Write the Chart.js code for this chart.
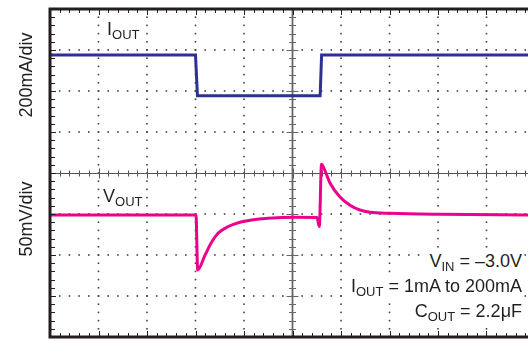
<!DOCTYPE html>
<html>
<head>
<meta charset="utf-8">
<script src="https://cdn.jsdelivr.net/npm/chart.js@4"></script>
<style>
    body { margin: 0; background: #fff; }
    #wrap { position: relative; width: 528px; height: 341px; overflow: hidden; }
    .lbl { position: absolute; font: 18px "Liberation Sans", Arial, Helvetica, sans-serif; line-height: 18px; color: #231f20; white-space: nowrap; }
    .lbl sub { font-size: 13px; vertical-align: baseline; position: relative; top: 4px; line-height: 0; }
    .ytitle { transform: translate(-50%, -50%) rotate(-90deg); }
    .cond { line-height: 25px; background: #fff; padding-left: 3px; right: 6px; }
</style>
</head>
<body>
<div id="wrap">
    <canvas id="scope" width="528" height="341"></canvas>
    <div class="lbl ytitle" style="left:26px; top:75px;">200mA/div</div>
    <div class="lbl ytitle" style="left:26px; top:219px;">50mV/div</div>
    <div class="lbl" style="left:107px; top:20px;">I<sub>OUT</sub></div>
    <div class="lbl" style="left:103px; top:187px;">V<sub>OUT</sub></div>
    <div class="lbl cond" style="top:249px;">V<sub>IN</sub> = –3.0V</div>
    <div class="lbl cond" style="top:274px;">I<sub>OUT</sub> = 1mA to 200mA</div>
    <div class="lbl cond" style="top:299px;">C<sub>OUT</sub> = 2.2μF</div>
</div>
<script>
// temps en divisions horizontales
const tI = [0, 3.0, 3.04, 5.57, 5.60, 9.86];
// courant de sortie (mA)
const iOut = [200, 200, 1, 1, 200, 200];

const tV = [0, 3.01, 3.045, 3.196, 3.334, 3.47, 3.676, 3.882, 4.159, 4.501, 5.052, 5.505, 5.553, 5.598, 5.67, 5.773, 5.979, 6.186, 6.392, 6.598, 7.01, 8.041, 9.86];
// écart de la tension de sortie (mV)
const vOut = [0, 0, -67, -49, -33, -22, -14, -9.4, -6.1, -4, -2.8, -3, -14, 62, 54, 39, 22, 12, 6.1, 3.3, 2.1, 0.9, 0];

const pts = (t, v) => t.map((x, i) => ({ x: x, y: v[i] }));

// graticule de l'oscilloscope
const graticule = {
    id: 'graticule',
    beforeDatasetsDraw(chart) {
        const { ctx, chartArea: a, scales: { x, g } } = chart;
        const xMax = x.max;
        ctx.save();
        ctx.fillStyle = '#444';
        // lignes pointillées verticales
        for (let i = 1; i <= 9; i++) {
            if (i === 5) continue;
            const px = x.getPixelForValue(i);
            for (let k = 1; k < 40; k++) {
                const py = g.getPixelForValue(k / 5);
                ctx.fillRect(px - 0.8, py - 0.8, 1.6, 1.6);
            }
        }
        // lignes pointillées horizontales
        for (let j = 1; j <= 7; j++) {
            if (j === 4) continue;
            const py = g.getPixelForValue(j);
            for (let k = 1; k / 5 < xMax; k++) {
                const px = x.getPixelForValue(k / 5);
                ctx.fillRect(px - 0.8, py - 0.8, 1.6, 1.6);
            }
        }
        // axes centraux
        const cy = Math.round(g.getPixelForValue(4)) + 0.5;
        const cx = x.getPixelForValue(5);
        ctx.strokeStyle = '#555';
        ctx.lineWidth = 1;
        ctx.beginPath();
        ctx.moveTo(a.left, cy); ctx.lineTo(a.right, cy);
        for (let k = 1; k / 5 < xMax; k++) {
            const px = Math.round(x.getPixelForValue(k / 5)) + 0.5;
            const len = k % 5 === 0 ? 5 : 3;
            ctx.moveTo(px, cy - len); ctx.lineTo(px, cy + len);
        }
        ctx.stroke();
        ctx.strokeStyle = '#666';
        ctx.lineWidth = 1.8;
        ctx.beginPath();
        ctx.moveTo(cx, a.top); ctx.lineTo(cx, a.bottom);
        ctx.stroke();
        ctx.lineWidth = 1;
        ctx.beginPath();
        for (let k = 1; k < 40; k++) {
            const py = Math.round(g.getPixelForValue(k / 5)) + 0.5;
            const len = k % 5 === 0 ? 6 : 3.5;
            ctx.moveTo(cx - len, py); ctx.lineTo(cx + len, py);
        }
        ctx.stroke();
        ctx.restore();
    },
    afterDatasetsDraw(chart) {
        const { ctx, chartArea: a, scales: { x, g } } = chart;
        const xMax = x.max;
        ctx.save();
        ctx.strokeStyle = '#231f20';
        // petites graduations des bords
        ctx.lineWidth = 1;
        ctx.beginPath();
        for (let k = 1; k / 5 < xMax; k++) {
            const px = Math.round(x.getPixelForValue(k / 5)) + 0.5;
            const len = k % 5 === 0 ? 6 : 4;
            ctx.moveTo(px, a.top); ctx.lineTo(px, a.top + len);
            ctx.moveTo(px, a.bottom); ctx.lineTo(px, a.bottom - len);
        }
        for (let k = 1; k < 40; k++) {
            const py = Math.round(g.getPixelForValue(k / 5)) + 0.5;
            const len = k % 5 === 0 ? 6 : 5;
            ctx.moveTo(a.left, py); ctx.lineTo(a.left + len, py);
        }
        ctx.stroke();
        // cadre
        ctx.lineWidth = 3;
        ctx.beginPath();
        ctx.moveTo(a.right, a.top); ctx.lineTo(a.left, a.top);
        ctx.lineTo(a.left, a.bottom); ctx.lineTo(a.right, a.bottom);
        ctx.stroke();
        ctx.restore();
    }
};

const ctx = document.getElementById('scope').getContext('2d');
const scope = new Chart(ctx, {
    type: 'line',
    data: {
        datasets: [{
            label: 'IOUT',
            data: pts(tI, iOut),
            yAxisID: 'yI',
            borderColor: '#2e3192',
            borderWidth: 3,
            pointRadius: 0,
            tension: 0
        }, {
            label: 'VOUT',
            data: pts(tV, vOut),
            yAxisID: 'yV',
            borderColor: '#ec008c',
            borderWidth: 3,
            pointRadius: 0,
            cubicInterpolationMode: 'monotone'
        }]
    },
    options: {
        responsive: false,
        devicePixelRatio: 1,
        animation: false,
        layout: { padding: { left: 50, top: 9, right: 0, bottom: 4 } },
        plugins: { legend: { display: false }, tooltip: { enabled: false } },
        scales: {
            x: { type: 'linear', min: 0, max: 478 / 48.5, display: false },
            g: { type: 'linear', position: 'left', min: 0, max: 8, display: false },
            // 200mA/div, 200mA au pixel 55
            yI: { type: 'linear', position: 'left', min: 200 - 282 * 200 / 41, max: 200 + 46 * 200 / 41, display: false },
            // 50mV/div, 0 au pixel 215
            yV: { type: 'linear', position: 'left', min: -122 * 50 / 41, max: 206 * 50 / 41, display: false }
        }
    },
    plugins: [graticule]
});
</script>
</body>
</html>
